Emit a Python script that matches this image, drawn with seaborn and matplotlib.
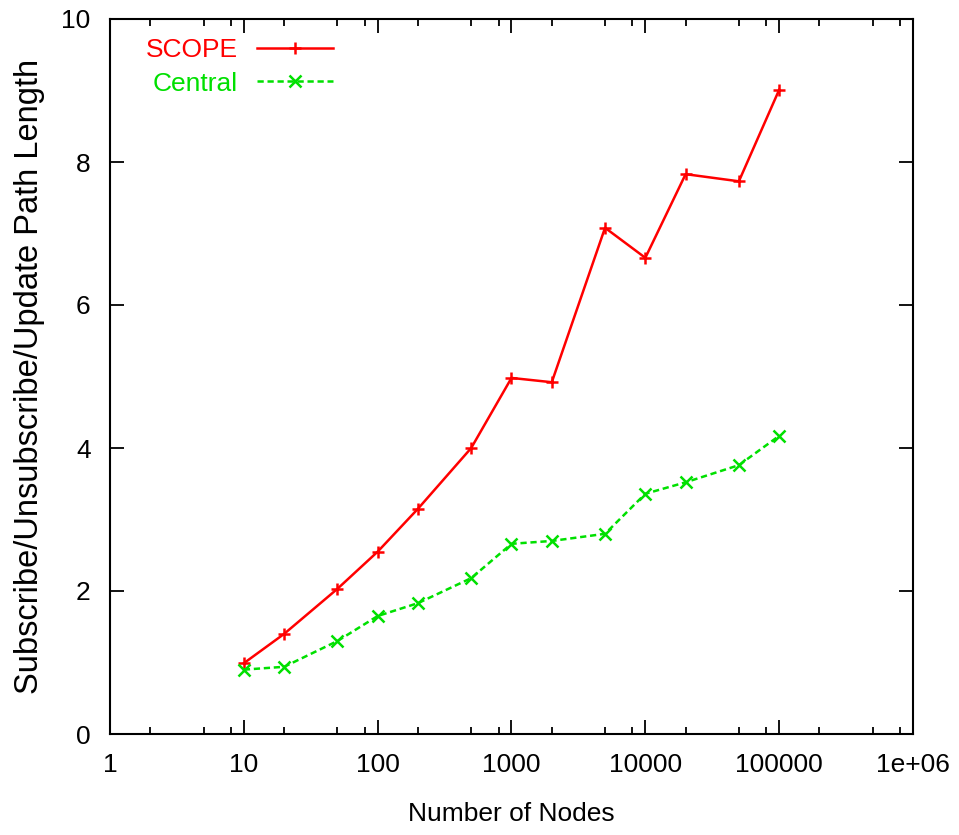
import numpy as np
import pandas as pd
import matplotlib
matplotlib.use("Agg")
import matplotlib.pyplot as plt
import seaborn as sns
from matplotlib.ticker import FixedLocator, NullFormatter

nodes = [10, 20, 50, 100, 200, 500, 1000, 2000, 5000, 10000, 20000, 50000, 100000]
scope = [0.99, 1.40, 2.03, 2.55, 3.15, 4.00, 4.98, 4.92, 7.08, 6.66, 7.83, 7.73, 9.01]
central = [0.90, 0.94, 1.30, 1.65, 1.83, 2.18, 2.66, 2.70, 2.80, 3.36, 3.52, 3.76, 4.17]
series_names = ["SCOPE", "Central"]
x_ticks = [1, 10, 100, 1000, 10000, 100000, 1000000]
x_ticklabels = ["1", "10", "100", "1000", "10000", "100000", "1e+06"]
y_ticks = [0, 2, 4, 6, 8, 10]

plt.rcParams['font.family'] = ['Liberation Sans', 'DejaVu Sans']

df_scope = pd.DataFrame({"nodes": nodes, "value": scope})
df_central = pd.DataFrame({"nodes": nodes, "value": central})

fig = plt.figure(figsize=(9.59, 8.35), dpi=100)
ax = fig.add_axes([110/959, 1 - 734/835, (913-110)/959, (734-19)/835])

red = "#ff0000"
green = "#00e000"
sns.lineplot(data=df_scope, x="nodes", y="value", ax=ax, color=red, label=series_names[0],
             marker="+", markersize=9, markeredgewidth=1.8, markeredgecolor=red,
             linewidth=1.8)
sns.lineplot(data=df_central, x="nodes", y="value", ax=ax, color=green, label=series_names[1],
             marker="x", markersize=8, markeredgewidth=1.8, markeredgecolor=green,
             linewidth=1.8, dashes=(2.5, 1.5))

ax.set_xscale("log")
ax.set_xlim(1, 1e6)
ax.set_ylim(0, 10)
ax.set_xticks(x_ticks)
ax.set_xticklabels(x_ticklabels)
minors = []
for d in [1, 10, 100, 1000, 10000, 100000]:
    minors += [2*d, 5*d, 8*d]
ax.xaxis.set_minor_locator(FixedLocator(minors))
ax.xaxis.set_minor_formatter(NullFormatter())
ax.set_yticks(y_ticks)
ax.tick_params(axis="both", which="major", direction="in", length=10, width=1.3,
               top=True, right=True, bottom=True, left=True,
               labelsize=19, pad=14, colors="black", labelcolor="black")
ax.tick_params(axis="x", which="minor", direction="in", length=5, width=1.3,
               top=True, bottom=True)
ax.tick_params(axis="y", which="minor", left=False, right=False)
for s in ax.spines.values():
    s.set_linewidth(1.5)
    s.set_color("black")
ax.set_facecolor("white")
ax.grid(False)

ax.set_xlabel("Number of Nodes", fontsize=19, labelpad=18, color="black")
ax.set_ylabel("Subscribe/Unsubscribe/Update Path Length", fontsize=23.5, labelpad=12,
              color="black")

leg = ax.legend(loc="upper left", bbox_to_anchor=(0.025, 0.995), frameon=False,
                markerfirst=False, fontsize=19, handlelength=2.9, labelspacing=0.35,
                labelcolor="linecolor", borderaxespad=0.2, handletextpad=0.7,
                numpoints=1)
for t in leg.get_texts():
    t.set_ha("right")

fig.savefig("out.png", dpi=100)
